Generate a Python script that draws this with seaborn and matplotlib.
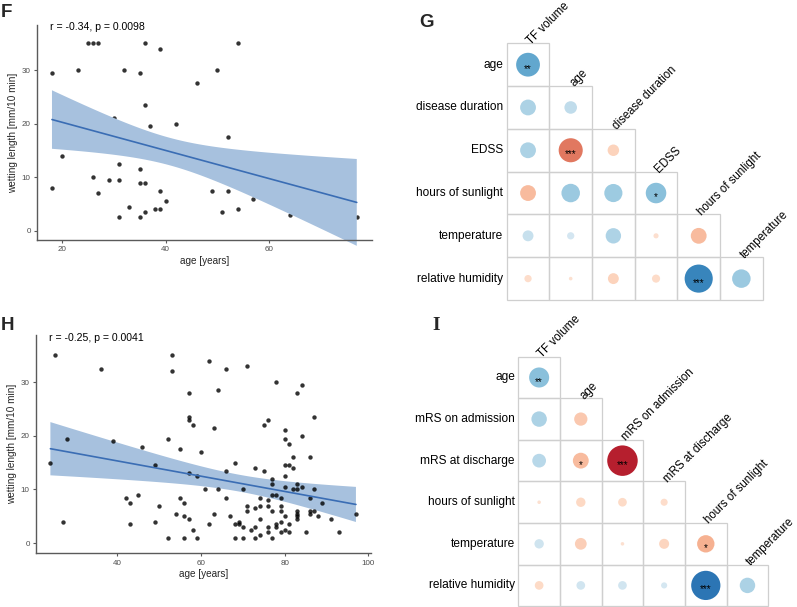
import numpy as np
import pandas as pd
import matplotlib
matplotlib.use("Agg")
import matplotlib.pyplot as plt
import seaborn as sns
from matplotlib.patches import Rectangle
from matplotlib.colors import ListedColormap

sns.set_theme(style="white")
plt.rcParams["font.family"] = ["Liberation Sans", "DejaVu Sans"]

# ---------------- data ----------------
# panel F: visible points, followed by points estimated to lie hidden under the
# opaque confidence band (n ~ 58 implied by r = -0.34, p = 0.0098)
f_age = [18, 18, 20, 23, 25, 26, 27, 26, 27, 29, 30, 31, 31, 31, 32, 33, 35, 35, 35, 35,
         36, 36, 36, 36, 37, 38, 39, 39, 39, 40, 42, 46, 49, 50, 51, 52, 52, 54, 54, 57, 64, 77,
         38, 40, 41, 42, 43, 44, 45, 46, 47, 48, 50, 53, 55, 58, 60, 62]
f_wet = [29.5, 8, 14, 30, 35, 35, 35, 10, 7, 9.5, 21, 12.5, 9.5, 2.5, 30, 4.5, 29.5, 11.5, 9, 2.5,
         35, 23.5, 9, 3.5, 19.5, 4, 34, 7.5, 4, 5.5, 20, 27.5, 7.5, 30, 3.5, 17.5, 7.5, 35, 4, 6, 3, 2.5,
         14, 16.5, 13.5, 15.5, 13, 15, 12.5, 14.5, 12, 14, 13, 10.5, 12, 9, 10.5, 8.5]
f_label = "r = -0.34, p = 0.0098"

h_age = [24, 25, 27, 28, 36, 39, 42, 43, 43, 45, 46, 49, 49, 50, 52, 52, 53, 53, 54, 55,
         55, 56, 56, 56, 57, 57, 57, 57, 57, 58, 58, 59, 59, 60, 61, 62, 62, 63, 63, 64,
         64, 66, 66, 66, 67, 68, 68, 68, 69, 69, 70, 70, 70, 71, 71, 71, 72, 73, 73, 73,
         73, 74, 74, 74, 74, 75, 75, 76, 76, 76, 76, 76, 77, 77, 77, 77, 77, 78, 78, 78,
         78, 79, 79, 79, 79, 79, 80, 80, 80, 80, 80, 80, 80, 81, 81, 81, 81, 82, 82, 82,
         83, 83, 83, 83, 83, 83, 83, 84, 84, 84, 85, 86, 86, 86, 86, 87, 87, 87, 88, 89,
         91, 93, 97]
h_wet = [15, 35, 4, 19.5, 32.5, 19, 8.5, 7.5, 3.5, 9, 18, 14.5, 4, 7, 19.5, 1, 35, 32, 5.5, 17.5,
         8.5, 7.5, 5, 1, 28, 23.5, 23, 13, 4.5, 22, 2.5, 12.5, 1, 17, 10, 3.5, 34, 21.5, 5.5, 28.5,
         10, 32.5, 13.5, 8.5, 5, 15, 3.5, 1, 4, 3.5, 10, 3, 1, 33, 7, 6, 2.5, 14, 6.5, 3,
         1, 8.5, 7, 4.5, 1.5, 22, 13.5, 23, 8, 7, 3, 2, 12, 11, 9, 6, 1, 30, 9, 3.5,
         3, 8.5, 7, 6, 4, 2, 21, 19.5, 14.5, 12.5, 10.5, 5, 2.5, 18.5, 14.5, 3.5, 2, 16, 14, 10,
         28, 11, 10, 6, 5.5, 5, 4.5, 29.5, 20, 10.5, 2, 16, 8.5, 6, 5.5, 23.5, 10, 6, 5, 7.5,
         4.5, 2, 5.5]
h_label = "r = -0.25, p = 0.0041"

g_rows = ["age", "disease duration", "EDSS", "hours of sunlight", "temperature", "relative humidity"]
g_cols = ["TF volume", "age", "disease duration", "EDSS", "hours of sunlight", "temperature"]
g_r = [[-0.43],
       [-0.19, -0.12],
       [-0.19, 0.44, 0.10],
       [0.19, -0.26, -0.25, -0.32],
       [-0.09, -0.04, -0.18, 0.02, 0.19],
       [0.04, 0.01, 0.09, 0.05, -0.60, -0.26]]
g_stars = [["**"],
           ["", ""],
           ["", "***", ""],
           ["", "", "", "*"],
           ["", "", "", "", ""],
           ["", "", "", "", "***", ""]]

i_rows = ["age", "mRS on admission", "mRS at discharge", "hours of sunlight", "temperature", "relative humidity"]
i_cols = ["TF volume", "age", "mRS on admission", "mRS at discharge", "hours of sunlight", "temperature"]
i_r = [[-0.32],
       [-0.19, 0.14],
       [-0.15, 0.20, 0.74],
       [0.01, 0.07, 0.06, 0.04],
       [-0.07, 0.11, 0.01, 0.08, 0.24],
       [0.06, -0.06, -0.06, -0.03, -0.68, -0.19]]
i_stars = [["**"],
           ["", ""],
           ["", "*", "***"],
           ["", "", "", ""],
           ["", "", "", "", "*"],
           ["", "", "", "", "***", ""]]

# ---------------- figure ----------------
W, H = 797, 607
fig = plt.figure(figsize=(W / 100, H / 100), dpi=100)
fig.patch.set_facecolor("white")


def px_axes(left, top, right, bottom):
    return fig.add_axes([left / W, 1 - bottom / H, (right - left) / W, (bottom - top) / H])


AXC = "#5a5a5a"


def t975(nu):
    z = 1.959964
    return z + (z ** 3 + z) / (4 * nu) + (5 * z ** 5 + 16 * z ** 3 + 3 * z) / (96 * nu ** 2)


def scatter_panel(ax, x, y, label, xlim, ylim, xticks, label_y, band_on_top):
    x = np.array(x, float)
    y = np.array(y, float)
    # analytic 95% confidence band of the linear fit (as in a standard lm smooth)
    n = len(x)
    b, a = np.polyfit(x, y, 1)
    grid = np.linspace(x.min(), x.max(), 100)
    resid = y - (a + b * x)
    s = np.sqrt(np.sum(resid ** 2) / (n - 2))
    sxx = np.sum((x - x.mean()) ** 2)
    se = s * np.sqrt(1 / n + (grid - x.mean()) ** 2 / sxx)
    fit = a + b * grid
    half = t975(n - 2) * se
    ax.fill_between(grid, fit - half, fit + half, facecolor="#a7c1de", edgecolor="none",
                    zorder=3.5 if band_on_top else 1, clip_on=False)
    sns.regplot(x=x, y=y, ax=ax, ci=None,
                scatter_kws=dict(s=10, color="black", linewidths=0, zorder=3),
                line_kws=dict(color="#3a6db4", lw=1.2, zorder=4))
    ax.set_xlim(*xlim)
    ax.set_ylim(*ylim)
    ax.set_xticks(xticks)
    ax.set_yticks([0, 10, 20, 30])
    for sp in ["top", "right"]:
        ax.spines[sp].set_visible(False)
    for sp in ["left", "bottom"]:
        ax.spines[sp].set_color(AXC)
        ax.spines[sp].set_linewidth(1.0)
        ax.spines[sp].set_zorder(5)
    ax.tick_params(axis="both", which="both", direction="out", length=2.5, width=0.8,
                   color=AXC, labelcolor="#4d4d4d", labelsize=5.8, pad=2,
                   bottom=True, left=True)
    ax.set_xlabel("age [years]", fontsize=7.2, labelpad=2)
    ax.set_ylabel("wetting length [mm/10 min]", fontsize=7.2, labelpad=3)
    ax.text(0.039, label_y, label, transform=ax.transAxes, fontsize=7.6,
            ha="left", va="center", color="black")
    ax.set_facecolor("white")
    ax.grid(False)


axF = px_axes(37, 25, 372, 240)
scatter_panel(axF, f_age, f_wet, f_label, (15.1, 79.95), (-1.7, 38.4), [20, 40, 60], 0.99,
              band_on_top=True)

axH = px_axes(36, 335, 371, 553.3)
scatter_panel(axH, h_age, h_wet, h_label, (20.56, 100.6), (-1.9, 38.8), [40, 60, 80, 100], 0.985,
              band_on_top=False)

# diverging colour scale (red = positive, blue = negative), tinted away from zero
_base = plt.get_cmap("RdBu_r")
_v = np.linspace(-1, 1, 256)
_c = np.sign(_v) * (0.15 + 0.85 * np.abs(_v))
corr_cmap = ListedColormap(_base((_c + 1) / 2))


def corr_panel(ax, rows, cols, rvals, stars, smax, fs=8.6, fs_col=8.3):
    recs = []
    for i, row in enumerate(rvals):
        for j, r in enumerate(row):
            recs.append(dict(cx=j + 0.5, cy=i + 0.5, r=r, absr=abs(r), star=stars[i][j]))
    df = pd.DataFrame(recs)
    for rec in recs:
        ax.add_patch(Rectangle((rec["cx"] - 0.5, rec["cy"] - 0.5), 1, 1, facecolor="none",
                               edgecolor="#cfcfcf", lw=0.9, zorder=1, clip_on=False))
    sns.scatterplot(data=df, x="cx", y="cy", hue="r", palette=corr_cmap, hue_norm=(-1, 1),
                    size="absr", sizes=(0, smax), size_norm=(0, 1), legend=False,
                    edgecolor="none", linewidth=0, ax=ax, zorder=2, clip_on=False)
    for rec in recs:
        if rec["star"]:
            ax.text(rec["cx"], rec["cy"] + 0.1, rec["star"], ha="center", va="center",
                    fontsize=7, color="black", zorder=3)
    for i, lab in enumerate(rows):
        ax.text(-0.08, i + 0.5, lab, ha="right", va="center", fontsize=fs, color="black")
    for j, lab in enumerate(cols):
        ax.text(j + 0.58, j + 0.03, lab, ha="left", va="baseline", rotation=45,
                rotation_mode="anchor", fontsize=fs_col, color="black")
    ax.set_xlim(0, 6)
    ax.set_ylim(6, 0)
    ax.axis("off")


axG = px_axes(506.7, 43.3, 762.7, 300)
corr_panel(axG, g_rows, g_cols, g_r, g_stars, smax=(0.85 * 42.7 * 0.72) ** 2)

axI = px_axes(518.3, 356.7, 768.3, 606.2)
corr_panel(axI, i_rows, i_cols, i_r, i_stars, smax=(0.85 * 41.7 * 0.72) ** 2)

# panel letters
fig.text(1 / W, 1 - 4 / H, "F", fontsize=13.5, fontweight="bold", ha="left", va="top")
fig.text(1 / W, 1 - 317 / H, "H", fontsize=13.5, fontweight="bold", ha="left", va="top")
fig.text(419 / W, 1 - 14 / H, "G", fontsize=13.5, fontweight="bold", ha="left", va="top")
fig.text(432 / W, 1 - 317 / H, "I", fontsize=14, fontweight="bold", ha="left", va="top",
         family=["Liberation Serif", "DejaVu Serif"])

fig.savefig("out.png", dpi=100, facecolor="white")
